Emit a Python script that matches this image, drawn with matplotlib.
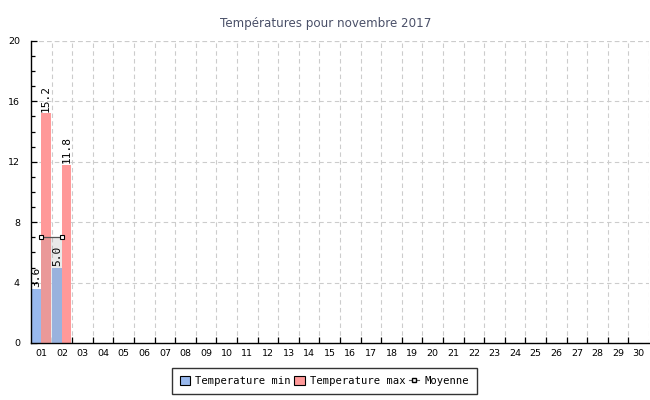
import matplotlib
matplotlib.use("Agg")
import matplotlib.pyplot as plt
from matplotlib.lines import Line2D
from matplotlib.patches import Patch
import numpy as np

days = [f"{d:02d}" for d in range(1, 31)]
temp_min = [3.6, 5.0]
temp_max = [15.2, 11.8]
moyenne = [7.0, 7.0]
title = "Températures pour novembre 2017"

col_min = "#99b9ee"
col_max = "#ff9999"

fig = plt.figure(figsize=(6.5, 4.0), dpi=100)
ax = fig.add_axes([31/650, 1-343/400, (649-31)/650, (343-41)/400])

x = np.arange(len(days))
n = len(temp_min)
w = 0.46
off = 0.235
ax.bar(x[:n] - off, temp_min, width=w, color=col_min, zorder=2)
ax.bar(x[:n] + off, temp_max, width=w, color=col_max, zorder=2)

for i in range(n):
    ax.text(x[i] - off, temp_min[i] + 0.1, f"{temp_min[i]:.1f}", rotation=90,
            ha="center", va="bottom", fontsize=8, family="DejaVu Sans Mono", zorder=5)
    ax.text(x[i] + off, temp_max[i] + 0.1, f"{temp_max[i]:.1f}", rotation=90,
            ha="center", va="bottom", fontsize=8, family="DejaVu Sans Mono", zorder=5)

ax.fill_between(x[:n], 0, moyenne, color="#999999", alpha=0.2, lw=0, zorder=3)
ax.plot(x[:n], moyenne, color="#555555", lw=0.9, marker="s", markersize=3.2,
        markerfacecolor="white", markeredgecolor="black", markeredgewidth=0.8, zorder=4)

ax.set_xlim(-0.5, len(days) - 0.5)
ax.set_ylim(0, 20)
ax.set_xticks(x)
ax.set_xticklabels(days)
ax.set_xticks(x[:-1] + 0.5, minor=True)
ax.set_yticks(np.arange(0, 21, 4))
ax.set_yticks(np.arange(0, 21, 1), minor=True)

ax.tick_params(axis="x", which="major", length=0, labelsize=6.8, pad=4)
ax.tick_params(axis="x", which="minor", direction="in", length=4, width=0.9)
ax.tick_params(axis="y", which="major", direction="in", length=4, width=0.9, labelsize=6.8, pad=8)
ax.tick_params(axis="y", which="minor", direction="in", length=3, width=0.9)

dash = (0, (4, 3))
ax.grid(True, axis="y", which="major", ls=dash, color="#cccccc", lw=0.8, zorder=0)
ax.grid(True, axis="x", which="minor", ls=dash, color="#cccccc", lw=0.8, zorder=0)
ax.axvline(len(days) - 0.5, ls=dash, color="#cccccc", lw=0.8, zorder=0)
ax.axhline(20, ls=dash, color="#cccccc", lw=0.8, zorder=0)
ax.set_axisbelow(True)

for s in ["top", "right"]:
    ax.spines[s].set_visible(False)
for s in ["left", "bottom"]:
    ax.spines[s].set_color("black")
    ax.spines[s].set_linewidth(1.0)

fig.text(325.5/650, 1 - 24/400, title, ha="center", va="center", fontsize=8.6, color="#4a5068")

handles = [
    Patch(facecolor=col_min, edgecolor="black", lw=0.8, label="Temperature min"),
    Patch(facecolor=col_max, edgecolor="black", lw=0.8, label="Temperature max"),
    Line2D([0], [0], color="#555555", lw=0.8, marker="s", markersize=3,
           markerfacecolor="white", markeredgecolor="black", label="Moyenne"),
]
leg = fig.legend(handles=handles, loc="center", bbox_to_anchor=(324.5/650, 1 - 381/400),
                 ncol=3, frameon=True, fancybox=False, edgecolor="black",
                 prop={"family": "DejaVu Sans Mono", "size": 7.6},
                 handlelength=1.0, handleheight=1.0, handletextpad=0.5,
                 columnspacing=0.3, borderpad=0.75)
leg.get_frame().set_linewidth(1.0)

fig.savefig("out.png", dpi=100)
